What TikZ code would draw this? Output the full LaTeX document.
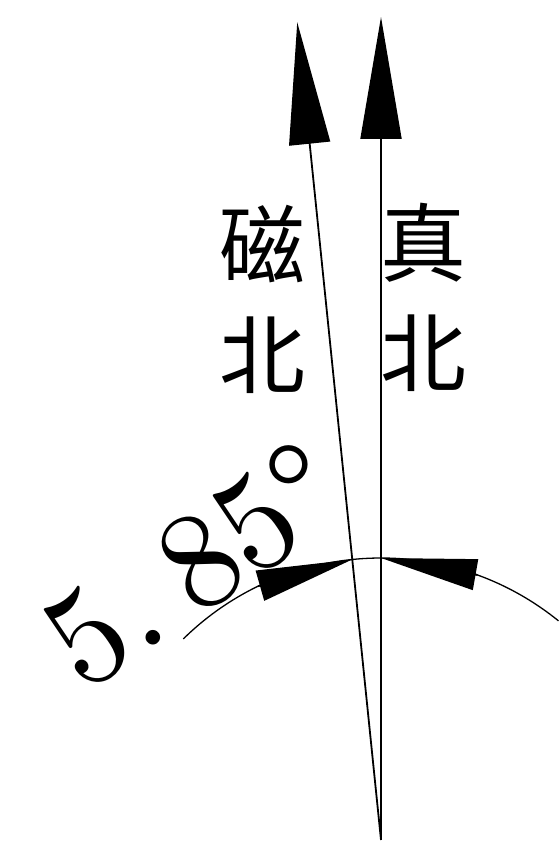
\documentclass[tikz,border=0pt]{standalone}
\usepackage{fontspec}
\newfontfamily\cjkfont{Noto Sans CJK SC}
\newfontfamily\dimfont{lmroman10-regular.otf}
\newcommand\dimcell[1]{\makebox[68pt]{#1}}
\newcommand\dimcellleft[1]{\makebox[68pt][l]{#1}}
\usetikzlibrary{arrows.meta,calc}

\begin{document}
\begin{tikzpicture}[x=1pt,y=1pt,line width=1.8pt]
\useasboundingbox (0,0) rectangle (559,849);

\coordinate (apex)	at (381,9);
\coordinate (true_tip)	at (381,832);
\coordinate (mag_tip)	at ($(apex)+(95.85:822)$);
\coordinate (arc_start)	at ($(apex)+(51:282)$);
\coordinate (true_arc)	at ($(apex)+(90:282)$);
\coordinate (mag_arc)	at ($(apex)+(95.85:282)$);
\coordinate (true_dim)	at ($(apex)+(70:282)$);
\coordinate (mag_dim)	at ($(apex)+(115.85:282)$);

\draw [-{Triangle[length=122pt,width=41pt]}] (apex) -- (true_tip);
\draw [-{Triangle[length=122pt,width=41pt]}] (apex) -- (mag_tip);
\draw [line width=1.3pt] (arc_start) arc (51:134.5:282);
\draw [-{Triangle[length=96pt,width=31pt]}] (true_dim) -- (true_arc);
\draw [-{Triangle[length=96pt,width=31pt]}] (mag_dim) -- (mag_arc);

\node (mag_label)	at (262,550)	[font=\cjkfont\fontsize{86}{110}\selectfont,align=center] {磁\\北};
\node (true_label)	at (423,552)	[font=\cjkfont\fontsize{86}{110}\selectfont,align=center] {真\\北};
\node (angle_label)	at (83,155)	[anchor=base west,inner sep=0pt,rotate=34,font=\dimfont\fontsize{138}{138}\selectfont] {\dimcell{5}\dimcellleft{\hspace{2pt}.}\dimcell{8}\dimcell{5}\dimcellleft{°}};

\end{tikzpicture}
\end{document}
